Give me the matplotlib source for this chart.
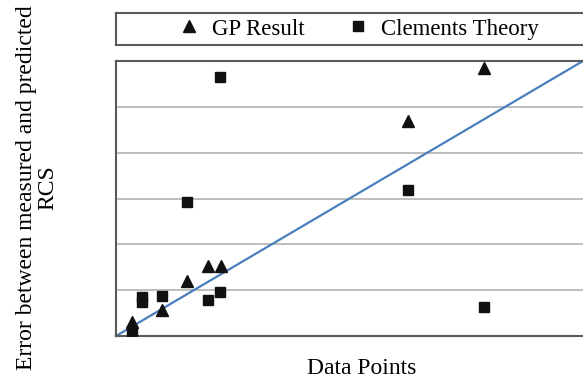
import matplotlib
matplotlib.use("Agg")
import matplotlib.pyplot as plt

# Data
gp_x = [0.34, 0.99, 1.53, 1.98, 2.24, 6.26, 7.87]
gp_y = [0.31, 0.57, 1.20, 1.53, 1.53, 4.69, 5.85]

cl_x = [0.34, 0.56, 0.56, 0.99, 1.53, 1.98, 2.22, 2.22, 6.26, 7.87]
cl_y = [0.11, 0.85, 0.74, 0.87, 2.92, 0.79, 0.96, 5.65, 3.19, 0.63]

line_x = [0, 10]
line_y = [0, 6]

series_labels = ["GP Result", "Clements Theory"]
x_label = "Data Points"
y_label = "Error between measured and predicted\nRCS"

plt.rcParams['font.family'] = ['Liberation Serif', 'DejaVu Serif']

W, H = 583, 379
fig = plt.figure(figsize=(W / 100, H / 100), dpi=100)
ax = fig.add_axes([116 / W, 1 - 336 / H, (583 - 116) / W, (336 - 61) / H])

spine_col = "#5a5a5a"
ax.plot(line_x, line_y, color="#4a7fbd", lw=1.6, zorder=2, clip_on=False)
ax.plot(gp_x, gp_y, linestyle="none", marker="^", ms=8, color="#111111",
        label=series_labels[0], zorder=3)
ax.plot(cl_x, cl_y, linestyle="none", marker="s", ms=6.8, color="#111111",
        label=series_labels[1], zorder=3)

ax.set_xlim(0, 10)
ax.set_ylim(0, 6)
ax.set_yticks(range(0, 7))
ax.set_xticks([])
ax.tick_params(left=False, labelleft=False, bottom=False, labelbottom=False)
ax.grid(axis="y", color="#b8b8b8", lw=1.3)
ax.set_axisbelow(True)
for s in ["left", "bottom", "top"]:
    ax.spines[s].set_color(spine_col)
    ax.spines[s].set_linewidth(1.5)
ax.spines["right"].set_visible(False)

# Legend box
lax = fig.add_axes([116 / W, 1 - 45 / H, (590 - 116) / W, (45 - 13) / H])
lax.set_xticks([]); lax.set_yticks([])
for s in lax.spines.values():
    s.set_color(spine_col)
    s.set_linewidth(1.5)
handles, labels = ax.get_legend_handles_labels()
fig.legend(handles, labels, loc="center", bbox_to_anchor=(359 / W, 1 - 29 / H),
           ncol=2, frameon=False, fontsize=16.5, handletextpad=0.55,
           columnspacing=1.9, handlelength=0.9)

fig.text(362 / W, 1 - 368 / H, x_label, ha="center", va="center", fontsize=17)
fig.text(37 / W, 1 - 188 / H, y_label, ha="center", va="center", rotation=90,
         fontsize=17, linespacing=1.0, multialignment="center")

fig.savefig("out.png", dpi=100)
